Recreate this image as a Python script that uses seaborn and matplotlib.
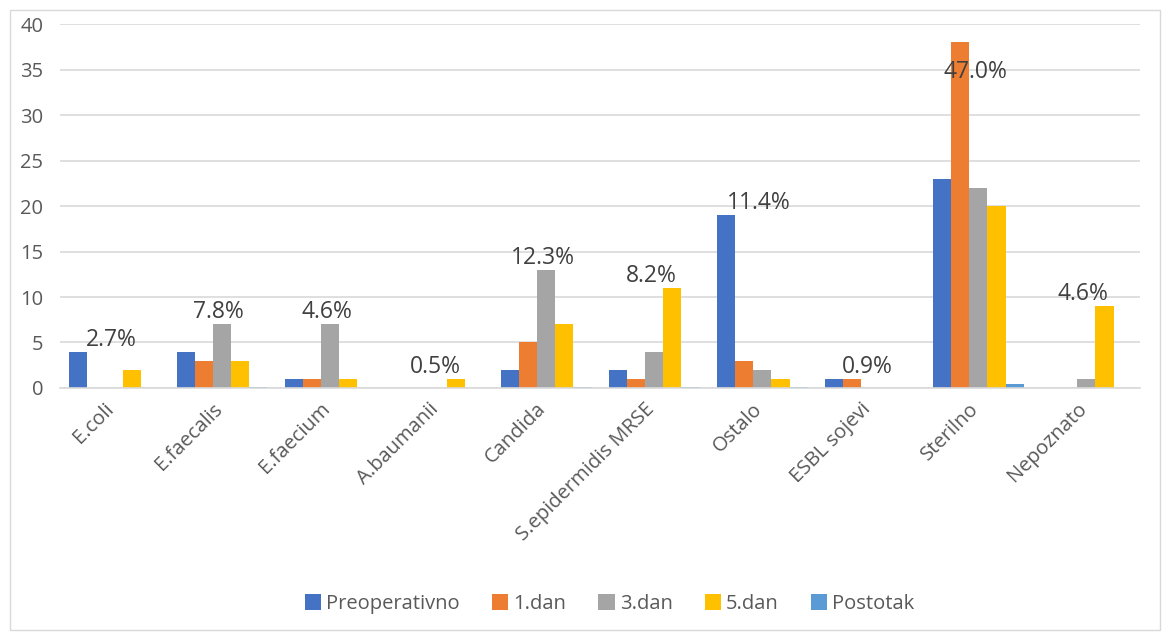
import matplotlib
matplotlib.use('Agg')
import matplotlib.pyplot as plt
from matplotlib.patches import Rectangle
from matplotlib.transforms import ScaledTranslation
import seaborn as sns
import pandas as pd
import numpy as np

categories = ['E.coli', 'E.faecalis', 'E.faecium', 'A.baumanii', 'Candida',
              'S.epidermidis MRSE', 'Ostalo', 'ESBL sojevi', 'Sterilno', 'Nepoznato']
preoperativno = [4, 4, 1, 0, 2, 2, 19, 1, 23, 0]
dan1 = [0, 3, 1, 0, 5, 1, 3, 1, 38, 0]
dan3 = [0, 7, 7, 0, 13, 4, 2, 0, 22, 1]
dan5 = [2, 3, 1, 1, 7, 11, 1, 0, 20, 9]
postotak = [0.027, 0.078, 0.046, 0.005, 0.123, 0.082, 0.114, 0.009, 0.47, 0.046]

series = {'Preoperativno': preoperativno, '1.dan': dan1, '3.dan': dan3,
          '5.dan': dan5, 'Postotak': postotak}
colors = ['#4472C4', '#ED7D31', '#A5A5A5', '#FFC000', '#5B9BD5']

rows = []
for name, vals in series.items():
    for cat, v in zip(categories, vals):
        rows.append({'kategorija': cat, 'serija': name, 'vrijednost': v})
df = pd.DataFrame(rows)

sns.set_style('white')
plt.rcParams['font.family'] = ['Open Sans', 'DejaVu Sans']

fig = plt.figure(figsize=(11.68, 6.36), dpi=100)
ax = fig.add_axes([0.0514, 0.39, 0.925, 0.572])

sns.barplot(data=df, x='kategorija', y='vrijednost', hue='serija',
            palette=colors, width=0.84, ax=ax, saturation=1, linewidth=0)

ax.set_ylim(0, 40)
ax.set_xlim(-0.5, len(categories) - 0.5)
ax.set_yticks(np.arange(0, 41, 5))
ax.yaxis.grid(True, color='#D9D9D9', linewidth=1.2)
ax.set_axisbelow(True)
for s in ['top', 'right', 'left']:
    ax.spines[s].set_visible(False)
ax.spines['bottom'].set_color('#D9D9D9')
ax.spines['bottom'].set_linewidth(1.2)
ax.set_xlabel('')
ax.set_ylabel('')
ax.tick_params(axis='y', length=0, pad=12, labelsize=14.5, labelcolor='#595959')
ax.tick_params(axis='x', length=0, pad=8, labelsize=14.5, labelcolor='#595959')
shift = ScaledTranslation(-10 / 100, 0, fig.dpi_scale_trans)
for lbl in ax.get_xticklabels():
    lbl.set_rotation(45)
    lbl.set_ha('right')
    lbl.set_rotation_mode('anchor')
    lbl.set_transform(lbl.get_transform() + shift)

# percentage labels (Postotak series) above each group
for i in range(len(categories)):
    top = max(preoperativno[i], dan1[i], dan3[i], dan5[i])
    y = min(top + 1.3, 34.7)
    ax.text(i - 0.03, y, f'{postotak[i] * 100:.1f}%', ha='center', va='center',
            fontsize=16.5, color='#404040')

handles, labels = ax.get_legend_handles_labels()
ax.get_legend().remove()
fig.legend(handles, labels, loc='center', bbox_to_anchor=(0.522, 0.05), ncol=5,
           frameon=False, fontsize=14.5, handlelength=0.8, handleheight=0.8,
           columnspacing=1.6, handletextpad=0.25, labelcolor='#595959')

fig.patches.append(Rectangle((10 / 1168, 6 / 636), 1150 / 1168, 620 / 636,
                             transform=fig.transFigure, fill=False,
                             edgecolor='#D9D9D9', linewidth=1))

fig.savefig('out.png', dpi=100)
